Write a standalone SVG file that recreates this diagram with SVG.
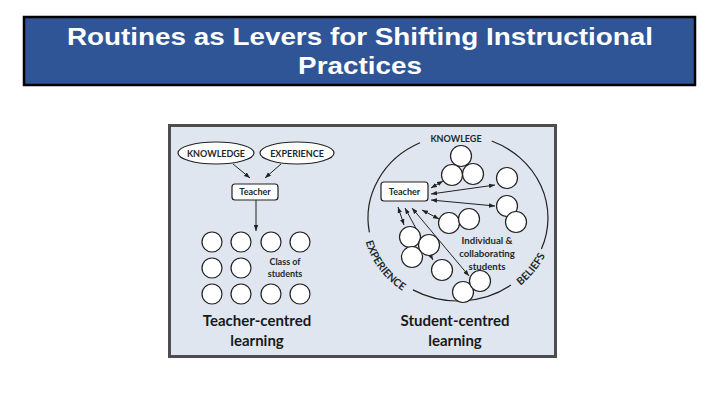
<svg xmlns="http://www.w3.org/2000/svg" width="720" height="405" viewBox="0 0 720 405">
<style>
.title{font-family:"Liberation Sans",Arial,sans-serif;font-weight:bold;font-size:24px;fill:#fff;text-anchor:middle}
.lbl{font-family:Lato,"Open Sans",sans-serif;font-weight:bold;font-size:9px;fill:#1c2a2a;text-anchor:middle}
.lbl2{font-family:Lato,"Open Sans",sans-serif;font-weight:bold;font-size:9.6px;fill:#1c2a2a;text-anchor:middle}
.arc{font-family:Lato,"Open Sans",sans-serif;font-weight:bold;font-size:10.5px;fill:#1c2a2a;text-anchor:middle}
.cap{font-family:Lato,"Open Sans",sans-serif;font-weight:bold;font-size:15px;fill:#1a1a1a;text-anchor:middle}
.st{fill:#fff;stroke:#222;stroke-width:1.2}
.ln{fill:none;stroke:#222;stroke-width:1}
.ring{fill:none;stroke:#222;stroke-width:1.2}
</style>
<defs>
<marker id="ah" viewBox="0 0 8 6" refX="8" refY="3" markerWidth="6" markerHeight="5" markerUnits="userSpaceOnUse" orient="auto-start-reverse">
<path d="M0,0 L8,3 L0,6 Z" fill="#222"/>
</marker>
<path id="pExp" d="M363,229.8 A96,89 0 0 0 413,297"/>
<path id="pBel" d="M511.7,291.8 A96,89 0 0 0 549.3,245.5"/>
</defs>
<rect width="720" height="405" fill="#fff"/>
<g id="title">
<rect x="24" y="17" width="671" height="68" fill="#2f5597" stroke="#000" stroke-width="2.5"/>
<g transform="translate(360,0) scale(1.16,1)">
<text class="title" x="0" y="45">Routines as Levers for Shifting Instructional</text>
<text class="title" x="0" y="74">Practices</text>
</g>
</g>
<g id="panel">
<rect x="169.5" y="125.5" width="386" height="231" fill="#dfe6ef" stroke="#4d4d4d" stroke-width="3"/>
</g>
<g id="connectors">
<line class="ln" x1="233" y1="164" x2="250" y2="178" marker-end="url(#ah)"/>
<line class="ln" x1="281" y1="164" x2="265" y2="178" marker-end="url(#ah)"/>
<line class="ln" x1="256" y1="200" x2="256" y2="231" marker-end="url(#ah)"/>
<line class="ln" x1="431" y1="188" x2="443" y2="181" marker-start="url(#ah)" marker-end="url(#ah)"/>
<line class="ln" x1="431" y1="194" x2="495" y2="185" marker-start="url(#ah)" marker-end="url(#ah)"/>
<line class="ln" x1="431" y1="200" x2="495" y2="206" marker-start="url(#ah)" marker-end="url(#ah)"/>
<line class="ln" x1="422" y1="210" x2="439" y2="219" marker-start="url(#ah)" marker-end="url(#ah)"/>
<line class="ln" x1="398" y1="207" x2="404" y2="225" marker-start="url(#ah)" marker-end="url(#ah)"/>
<line class="ln" x1="405" y1="208" x2="433" y2="260" marker-start="url(#ah)" marker-end="url(#ah)"/>
<line class="ln" x1="412" y1="208" x2="469" y2="276" marker-start="url(#ah)" marker-end="url(#ah)"/>
</g>
<g id="left-knowledge">
<ellipse class="st" cx="216" cy="153" rx="38" ry="11"/>
<text class="lbl" x="216" y="156.5">KNOWLEDGE</text>
</g>
<g id="left-experience">
<ellipse class="st" cx="297" cy="153" rx="37" ry="11"/>
<text class="lbl" x="297" y="156.5">EXPERIENCE</text>
</g>
<g id="left-teacher">
<rect class="st" x="232" y="184" width="46" height="16" rx="3"/>
<text class="lbl" x="255" y="195">Teacher</text>
</g>
<g id="left-class">
<circle class="st" cx="212" cy="242" r="10"/>
<circle class="st" cx="241" cy="242" r="10"/>
<circle class="st" cx="271" cy="242" r="10"/>
<circle class="st" cx="300" cy="242" r="10"/>
<circle class="st" cx="212" cy="268" r="10"/>
<circle class="st" cx="241" cy="268" r="10"/>
<circle class="st" cx="212" cy="294" r="10"/>
<circle class="st" cx="241" cy="294" r="10"/>
<circle class="st" cx="271" cy="294" r="10"/>
<circle class="st" cx="300" cy="294" r="10"/>
<text class="lbl" x="285" y="265">Class of</text>
<text class="lbl" x="285" y="277">students</text>
</g>
<g id="left-caption">
<text class="cap" x="257" y="326">Teacher-centred</text>
<text class="cap" x="257" y="346">learning</text>
</g>
<g id="right-ring">
<path class="ring" d="M491.7,141 A90,83 0 0 1 541.4,249.1"/>
<path class="ring" d="M510.9,285.1 A90,83 0 0 1 413,289.9"/>
<path class="ring" d="M369.4,232.4 A90,83 0 0 1 420,142.8"/>
<text class="lbl" x="456" y="142">KNOWLEGE</text>
<text class="arc"><textPath href="#pExp" startOffset="50%">EXPERIENCE</textPath></text>
<text class="arc"><textPath href="#pBel" startOffset="50%">BELIEFS</textPath></text>
</g>
<g id="right-teacher">
<rect class="st" x="381" y="182" width="47" height="19" rx="3"/>
<text class="lbl" x="404.5" y="195">Teacher</text>
</g>
<g id="right-students">
<circle class="st" cx="461" cy="156" r="10.5"/>
<circle class="st" cx="452" cy="175" r="10.5"/>
<circle class="st" cx="473" cy="174" r="10.5"/>
<circle class="st" cx="507" cy="178" r="10.5"/>
<circle class="st" cx="507" cy="206" r="10.5"/>
<circle class="st" cx="516" cy="222" r="10.5"/>
<circle class="st" cx="449" cy="223" r="10.5"/>
<circle class="st" cx="469" cy="219" r="10.5"/>
<circle class="st" cx="410" cy="237" r="10.5"/>
<circle class="st" cx="412" cy="257" r="10.5"/>
<circle class="st" cx="429" cy="245" r="10.5"/>
<circle class="st" cx="442" cy="270" r="10.5"/>
<circle class="st" cx="463" cy="292" r="10.5"/>
<circle class="st" cx="480" cy="281" r="10.5"/>
<text class="lbl2" x="487" y="244">Individual &amp;</text>
<text class="lbl2" x="487" y="257">collaborating</text>
<text class="lbl2" x="487" y="270">students</text>
</g>
<g id="right-caption">
<text class="cap" x="455" y="326">Student-centred</text>
<text class="cap" x="455" y="346">learning</text>
</g>
</svg>
